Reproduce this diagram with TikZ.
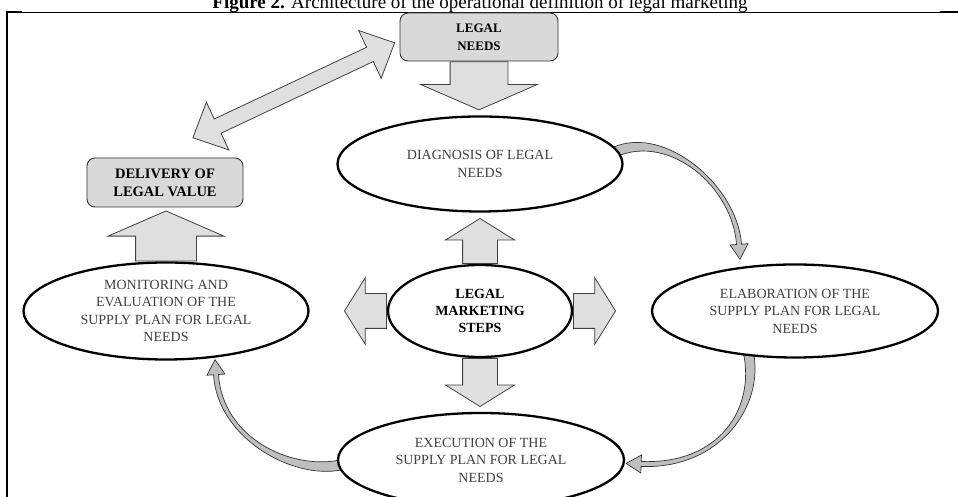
\documentclass[tikz,border=0pt]{standalone}
\usepackage{fontspec}
\setmainfont{Liberation Serif}
\usepackage{tikz}
\usetikzlibrary{calc}
\usetikzlibrary{positioning}
\usetikzlibrary{shapes.geometric}
\usetikzlibrary{shapes.arrows}
\pgfdeclarelayer{background}
\pgfsetlayers{background,main}
\tikzstyle{stage} = [ellipse, draw=black, line width=2.3pt, fill=white, inner sep=0pt, align=center, text=black!75, font=\fontsize{14}{17.5}\selectfont]
\tikzstyle{greybox} = [rectangle, rounded corners=8pt, draw=black!80, line width=0.9pt, fill=gray!30, align=center, font=\bfseries\fontsize{14}{18}\selectfont]
\tikzstyle{blockarr} = [single arrow, draw=black!75, line width=0.8pt, fill=gray!25, inner xsep=0pt]
\tikzstyle{bent} = [draw=black!80, line width=0.7pt, fill=gray!50]

% tapered curved arrow: start, control 1, control 2, head base
\newcommand{\bentarrow}[4]{%
  \coordinate (ba-s) at #1;
  \coordinate (ba-a) at #2;
  \coordinate (ba-b) at #3;
  \coordinate (ba-e) at #4;
  \coordinate (ba-sl) at ($(ba-s)!5pt!90:(ba-a)$);
  \coordinate (ba-sr) at ($(ba-s)!5pt!-90:(ba-a)$);
  \coordinate (ba-el) at ($(ba-e)!2.5pt!-90:(ba-b)$);
  \coordinate (ba-er) at ($(ba-e)!2.5pt!90:(ba-b)$);
  \coordinate (ba-hl) at ($(ba-e)!9pt!-90:(ba-b)$);
  \coordinate (ba-hr) at ($(ba-e)!9pt!90:(ba-b)$);
  \coordinate (ba-t) at ($(ba-e)!-15pt!(ba-b)$);
  \draw [bent] (ba-sl) .. controls ($(ba-a)+(ba-sl)-(ba-s)$) and ($(ba-b)+(ba-el)-(ba-e)$) .. (ba-el)
    -- (ba-hl) -- (ba-t) -- (ba-hr) -- (ba-er)
    .. controls ($(ba-b)+(ba-er)-(ba-e)$) and ($(ba-a)+(ba-sr)-(ba-s)$) .. (ba-sr) -- cycle;
}

\begin{document}
\begin{tikzpicture}[x=1pt, y=1pt]
\path [use as bounding box, clip] (0,0) rectangle (958,497);

% caption and frame
\node [anchor=base, inner sep=0, font=\fontsize{19}{23}\selectfont] (title) at (480,488) {\textbf{Figure 2.} Architecture of the operational definition of legal marketing};
\draw [line width=0.8pt] (7,485) -- (958,485);
\draw [line width=2pt] (7,485) -- (22,485);
\draw [line width=2pt] (940,485) -- (958,485);
\draw [line width=2pt] (7,486) -- (7,0);

% stages
\node [stage, minimum width=285, minimum height=95] (diag) at (480,333) {DIAGNOSIS OF LEGAL\\NEEDS};
\node [stage, minimum width=286, minimum height=93] (elab) at (795,186) {ELABORATION OF THE\\SUPPLY PLAN FOR LEGAL\\NEEDS};
\node [stage, minimum width=286, minimum height=94] (exec) at (481,37) {EXECUTION OF THE\\SUPPLY PLAN FOR LEGAL\\NEEDS};
\node [stage, minimum width=285, minimum height=97] (monit) at (166,186) {MONITORING AND\\EVALUATION OF THE\\SUPPLY PLAN FOR LEGAL\\NEEDS};
\node [stage, minimum width=184, minimum height=92, text=black, font=\bfseries\fontsize{14}{17}\selectfont] (steps) at (480,186) {LEGAL\\MARKETING\\STEPS};

\node [greybox, minimum width=158, minimum height=48, font=\bfseries\fontsize{13}{18}\selectfont] (needs) at (479,460) {LEGAL\\NEEDS};
\node [greybox, minimum width=156, minimum height=49, font=\bfseries\fontsize{14.5}{18}\selectfont] (deliv) at (165,314.5) {DELIVERY OF\\LEGAL VALUE};

% block arrows
\node [blockarr, rotate=-90, anchor=tail, minimum height=48, inner ysep=28.5, single arrow head extend=29.5, single arrow tip angle=133] (needsdown) at (needs.south) {};
\node [blockarr, rotate=90, anchor=tail, minimum height=50, inner ysep=30, single arrow head extend=27.5, single arrow tip angle=133] (monitup) at (monit.north) {};
\node [blockarr, rotate=90, anchor=tail, minimum height=45, inner ysep=17, single arrow head extend=17, single arrow tip angle=116] (stepsup) at (steps.north) {};
\node [blockarr, rotate=180, anchor=tail, minimum height=42, inner ysep=17, single arrow head extend=16, single arrow tip angle=116] (stepsleft) at (steps.west) {};
\node [blockarr, anchor=tail, minimum height=42, inner ysep=17, single arrow head extend=16, single arrow tip angle=116] (stepsright) at (steps.east) {};
\node [blockarr, rotate=-90, anchor=tail, minimum height=48, inner ysep=17, single arrow head extend=17, single arrow tip angle=116] (stepsdown) at (steps.south) {};

% two-way arrow between needs and value
\coordinate (dl) at ($(deliv.north)+(28,20)$);
\coordinate (du) at ($(needs.west)+(-5,-6)$);
\node [double arrow, draw=black!75, line width=0.8pt, fill=gray!25, inner xsep=0pt, inner ysep=7.5, double arrow head extend=18.5, minimum height=223, double arrow tip angle=88, rotate=25.2] (twoway) at ($(dl)!.5!(du)$) {};

% cycle arrows
\begin{pgfonlayer}{background}
\bentarrow{($(diag.5)+(-4,0)$)}{(668,368)}{(735,310)}{($(elab.north)+(-56,19)$)}
\bentarrow{($(elab.224)+(0,4)$)}{(760,90)}{(720,30)}{($(exec.east)+(16,-4)$)}
\bentarrow{($(exec.west)+(4,-5)$)}{(290,22)}{(220,60)}{($(monit.south)+(50,-14)$)}
\end{pgfonlayer}
\end{tikzpicture}
\end{document}
